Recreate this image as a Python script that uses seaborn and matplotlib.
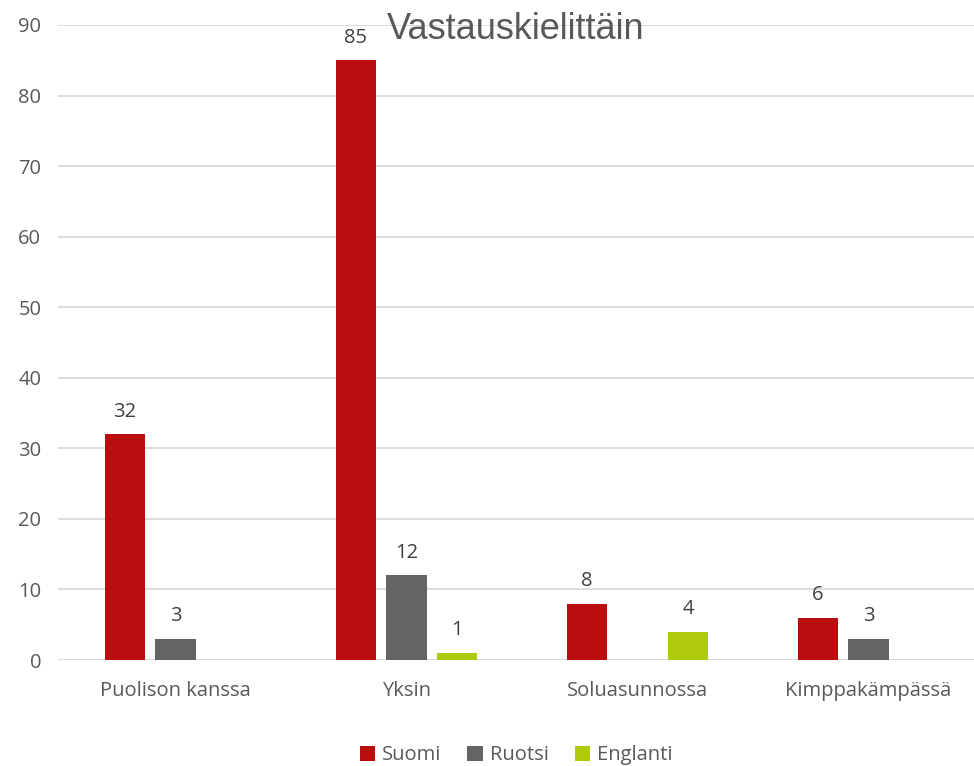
import pandas as pd
import numpy as np
import matplotlib
matplotlib.use('Agg')
import matplotlib.pyplot as plt
import seaborn as sns

# data
categories = ['Puolison kanssa', 'Yksin', 'Soluasunnossa', 'Kimppakämpässä']
languages = ['Suomi', 'Ruotsi', 'Englanti']
suomi = [32, 85, 8, 6]
ruotsi = [3, 12, None, 3]
englanti = [None, 1, 4, None]
colors = ['#BA0D0D', '#646464', '#AFCA0B']

rows = []
for lang, vals in zip(languages, [suomi, ruotsi, englanti]):
    for cat, v in zip(categories, vals):
        if v is not None:
            rows.append({'cat': cat, 'lang': lang, 'val': v})
df = pd.DataFrame(rows)

sns.set_theme(style='white')
plt.rcParams['font.family'] = ['Open Sans', 'DejaVu Sans']

fig = plt.figure(figsize=(9.74, 7.66), dpi=100)
ax = fig.add_axes([58/974, 1-660/766, 916/974, 635/766])

sns.barplot(data=df, x='cat', y='val', hue='lang', order=categories,
            hue_order=languages, palette=colors, width=0.66, gap=0.21,
            ax=ax, legend=True, saturation=1, edgecolor='none')

ax.set_ylim(0, 90)
x0 = -0.5 - 2/231
ax.set_xlim(x0, x0 + 916/231)
ax.set_yticks(range(0, 91, 10))
ax.yaxis.grid(True, color='#D9D9D9', lw=1.3)
ax.set_axisbelow(True)
for s in ax.spines.values():
    s.set_visible(False)
ax.tick_params(axis='y', length=0, pad=12, labelsize=14.5, labelcolor='#595959')
ax.tick_params(axis='x', length=0, pad=15, labelsize=14.5, labelcolor='#595959')
ax.set_xlabel('')
ax.set_ylabel('')

# data labels
for cont in ax.containers:
    for bar in cont:
        h = bar.get_height()
        if np.isnan(h):
            continue
        ax.annotate(f'{int(h)}', (bar.get_x() + bar.get_width()/2, h),
                    xytext=(0, 9), textcoords='offset points',
                    ha='center', va='bottom', fontsize=14.5, color='#404040')

ax.text(0.5, 0.993, 'Vastauskielittäin', transform=ax.transAxes,
        ha='center', va='center', fontsize=26, color='#595959',
        family='Liberation Sans')

ax.legend(loc='center', bbox_to_anchor=(0.5, -0.15), ncol=3, frameon=False,
          fontsize=14.5, handlelength=0.75, handleheight=0.75, handletextpad=0.35,
          columnspacing=1.3, labelcolor='#595959')

fig.savefig('out.png', dpi=100)
